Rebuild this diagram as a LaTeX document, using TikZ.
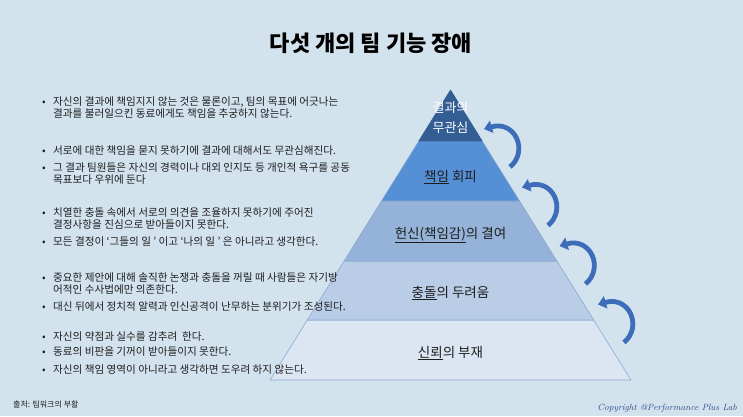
\documentclass[tikz,border=0pt]{standalone}
\usepackage{fontspec}
\usetikzlibrary{arrows.meta}
\newfontfamily\kr{Noto Sans CJK KR}
\IfFontExistsTF{Noto Sans CJK KR Black}{\newfontfamily\titlefont{Noto Sans CJK KR Black}}{\newfontfamily\titlefont{Noto Sans CJK KR}[FakeBold=2.5]}
\definecolor{bgc}{HTML}{D3E3EE}
\definecolor{lay1}{HTML}{335E94}
\definecolor{lay2}{HTML}{5590D6}
\definecolor{lay3}{HTML}{95B3D8}
\definecolor{lay4}{HTML}{B9CDE6}
\definecolor{lay5}{HTML}{DCE6F2}
\definecolor{edgec}{HTML}{8DA9D0}
\definecolor{arrc}{HTML}{3D6CB8}
\definecolor{txtc}{HTML}{1E1E1E}
\definecolor{cpc}{HTML}{2E4C8C}
\tikzset{
  bul/.style={anchor=base west, inner sep=0pt, text=txtc, font=\kr\fontsize{10.6}{12}\selectfont},
  btxt/.style={anchor=base west, inner sep=0pt, align=left, text=txtc, font=\kr\fontsize{10.6}{12}\selectfont},
  layer/.style={draw=edgec, line width=0.6pt, line join=round},
  lab/.style={inner sep=0pt, text=txtc, font=\kr\fontsize{13.5}{16}\selectfont},
  cyc/.style={line width=4.8pt, draw=arrc, -{Triangle[length=8pt,width=12.5pt]}}
}
\begin{document}
\begin{tikzpicture}[x=1pt,y=-1pt]
\fill[bgc] (0,0) rectangle (743,416);
\useasboundingbox (0,0) rectangle (743,416);
% title
\node[inner sep=0pt, font=\titlefont\fontsize{22}{26}\selectfont, text=black] (title) at (371,43) {다섯 개의 팀 기능 장애};
% pyramid layers
\coordinate (apex) at (450.5,90);
\filldraw[layer, fill=lay5] (270,380) -- (631,380) -- (593.7,320) -- (307.3,320) -- cycle;
\filldraw[layer, fill=lay4] (307.3,320) -- (593.7,320) -- (556.9,261) -- (344.1,261) -- cycle;
\filldraw[layer, fill=lay3] (344.1,261) -- (556.9,261) -- (519.6,201) -- (381.4,201) -- cycle;
\filldraw[layer, fill=lay2] (381.4,201) -- (519.6,201) -- (482.2,141) -- (418.8,141) -- cycle;
\filldraw[layer, draw=lay1, fill=lay1] (418.8,141) -- (482.2,141) -- (apex) -- cycle;
% pyramid labels
\node[inner sep=0pt, align=center, text=white, font=\kr\fontsize{13}{20}\selectfont] (l1) at (450.5,118) {결과의\\무관심};
\node[lab] (l2) at (450.5,177) {\underline{책임} 회피};
\node[lab] (l3) at (450.5,235) {\underline{헌신(책임감)}의 결여};
\node[lab] (l4) at (450.5,293) {\underline{충돌}의 두려움};
\node[lab] (l5) at (450.5,353) {\underline{신뢰}의 부재};
% curved arrows
\foreach \i/\dx/\dy in {1/0/0, 2/38/58.5, 3/75.5/117, 4/114/175.5}{
  \coordinate (t\i) at (510+\dx,167+\dy);
  \coordinate (h\i) at (484+\dx,129+\dy);
  \draw[cyc] (t\i) .. controls +(19,-16) and +(31,-9) .. (h\i);
}
% bullets
\foreach \n/\y in {1/105.5, 2/154.5, 3/171, 4/216.5, 5/245.5, 6/281, 7/310.3, 8/340.5, 9/355.5, 10/373.8}{
  \node[bul] (bu\n) at (42,\y) {•};
}
% bullet texts (two-line nodes are placed by their last baseline)
\node[btxt] (tx1) at (53,117.5) {자신의 결과에 책임지지 않는 것은 물론이고, 팀의 목표에 어긋나는\\결과를 불러일으킨 동료에게도 책임을 추궁하지 않는다.};
\node[btxt] (tx2) at (53,154.5) {서로에 대한 책임을 묻지 못하기에 결과에 대해서도 무관심해진다.};
\node[btxt] (tx3) at (53,183) {그 결과 팀원들은 자신의 경력이나 대외 인지도 등 개인적 욕구를 공동\\목표보다 우위에 둔다};
\node[btxt] (tx4) at (53,228.5) {치열한 충돌 속에서 서로의 의견을 조율하지 못하기에 주어진\\결정사항을 진심으로 받아들이지 못한다.};
\node[btxt] (tx5) at (53,245.5) {모든 결정이 ‘그들의 일 ’ 이고 ‘나의 일 ’ 은 아니라고 생각한다.};
\node[btxt] (tx6) at (53,293) {중요한 제안에 대해 솔직한 논쟁과 충돌을 꺼릴 때 사람들은 자기방\\어적인 수사법에만 의존한다.};
\node[btxt] (tx7) at (53,310.3) {대신 뒤에서 정치적 알력과 인신공격이 난무하는 분위기가 조성된다.};
\node[btxt] (tx8) at (53,340.5) {자신의 약점과 실수를 감추려\ \ 한다.};
\node[btxt] (tx9) at (53,355.5) {동료의 비판을 기꺼이 받아들이지 못한다.};
\node[btxt] (tx10) at (53,373.8) {자신의 책임 영역이 아니라고 생각하면 도우려 하지 않는다.};
% source and copyright
\node[anchor=west, inner sep=0pt, text=txtc, font=\kr\fontsize{8}{10}\selectfont] (src) at (13,404) {출처: 팀워크의 부활};
\node[anchor=east, inner sep=0pt, text=cpc, font=\itshape\fontsize{9}{11}\selectfont] (cp) at (737,408) {Copyright @Performance Plus Lab};
\end{tikzpicture}
\end{document}
